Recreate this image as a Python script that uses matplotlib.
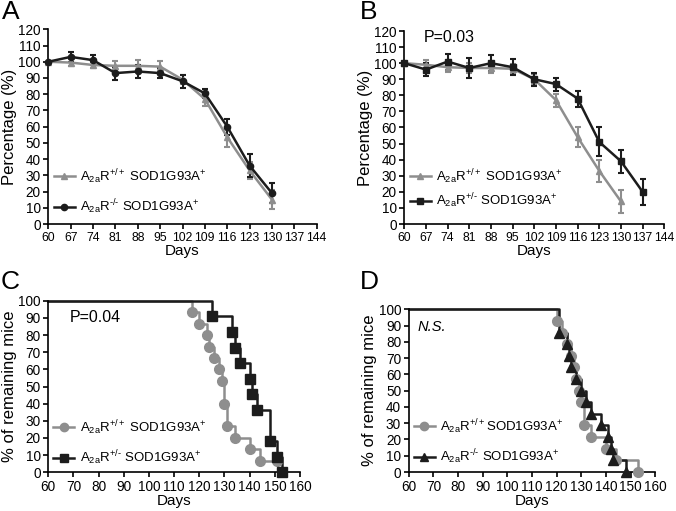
import matplotlib

matplotlib.use("Agg")

import matplotlib.pyplot as plt

plt.rcParams["font.family"] = ["Liberation Sans", "DejaVu Sans"]
plt.rcParams["mathtext.fontset"] = "custom"
plt.rcParams["mathtext.rm"] = "Liberation Sans"
plt.rcParams["mathtext.it"] = "Liberation Sans:italic"

GRAY = "#8e8e8e"
BLACK = "#1c1c1c"

# panel A: weight course, A2aR+/+ vs A2aR-/-
A_DAYS_WT = [60, 67, 74, 81, 88, 95, 102, 109, 116, 123, 130]
A_WT = [100, 99.5, 98, 97.5, 97.5, 97, 89, 77, 53.5, 33, 15]
A_WT_ERR = [0, 2, 2, 3, 3.5, 3.5, 3, 4, 6, 5, 6]
A_DAYS_KO = [60, 67, 74, 81, 88, 95, 102, 109, 116, 123, 130]
A_KO = [100, 103, 101, 93, 94, 93, 88, 80.5, 60, 36, 19]
A_KO_ERR = [0, 3, 3, 4, 4, 3, 4, 3, 5, 7, 6]

# panel B: weight course, A2aR+/+ vs A2aR+/-
B_DAYS_WT = [60, 67, 74, 81, 88, 95, 102, 109, 116, 123, 130]
B_WT = [100, 99, 97.5, 97, 97, 96.5, 90, 77, 54, 33, 14]
B_WT_ERR = [0, 3, 3, 3, 3, 3, 3, 4, 6, 7, 7]
B_DAYS_HET = [60, 67, 74, 81, 88, 95, 102, 109, 116, 123, 130, 137]
B_HET = [100, 96, 101, 97, 100, 97.5, 90, 87, 78, 51, 39, 20]
B_HET_ERR = [0, 4, 5, 6, 5, 5, 4, 4, 5, 9, 7, 8]

# panel C: survival, A2aR+/+ vs A2aR+/-
C_T_WT = [60, 117, 120, 123, 124, 126, 128, 129, 130, 131, 134, 140, 144, 151]
C_S_WT = [100, 93.3, 86.7, 80, 73.3, 66.7, 60, 53.3, 40, 26.7, 20, 13.3, 6.7, 6.7]
C_T_HET = [60, 125, 133, 134, 136, 140, 141, 143, 148, 151, 153]
C_S_HET = [100, 90.9, 81.8, 72.7, 63.6, 54.5, 45.5, 36.4, 18.2, 9.1, 0]

# panel D: survival, A2aR+/+ vs A2aR-/-
D_T_WT = [60, 120, 122, 124, 126, 127, 128, 129, 130, 131, 134, 140, 144, 153]
D_S_WT = [100, 92.9, 85.7, 78.6, 71.4, 64.3, 57.1, 50, 42.9, 28.6, 21.4, 14.3, 7.1, 0]
D_T_KO = [60, 121, 124, 125, 126, 128, 130, 132, 134, 138, 141, 142, 143, 148]
D_S_KO = [100, 85.7, 78.6, 71.4, 64.3, 57.1, 50, 42.9, 35.7, 28.6, 21.4, 14.3, 7.1, 0]

WEEK_TICKS = list(range(60, 145, 7))
DECADE_TICKS = list(range(60, 161, 10))

LBL_WT = r"$\mathrm{A_{2a}R^{+/+}}$ SOD1G93A$^{+}$"
LBL_WT_D = r"$\mathrm{A_{2a}R^{+/+}}$SOD1G93A$^{+}$"
LBL_KO = r"$\mathrm{A_{2a}R^{\text{-}/\text{-}}}$ SOD1G93A$^{+}$"
LBL_HET = r"$\mathrm{A_{2a}R^{+/\text{-}}}$ SOD1G93A$^{+}$"

W, H = 676, 511


def rect(x0, x1, ytop, ybot):
    return [x0 / W, 1 - ybot / H, (x1 - x0) / W, (ybot - ytop) / H]


def style(ax, xsize):
    for s in ("top", "right"):
        ax.spines[s].set_visible(False)
    for s in ("left", "bottom"):
        ax.spines[s].set_linewidth(1.2)
    ax.tick_params(direction="out", length=3.5, width=1.2, pad=2)
    ax.tick_params(axis="x", labelsize=xsize)
    ax.tick_params(axis="y", labelsize=9.8)


def weight_panel(ax, series, legend_y, spacing):
    for days, vals, err, color, marker, label in series:
        ax.errorbar(days, vals, yerr=err, color=color, marker=marker, ms=4.5,
                    lw=1.8, elinewidth=1.5, capsize=2.5, capthick=1.5,
                    label=label, clip_on=False, zorder=3)
    ax.set_xlim(60, 144)
    ax.set_ylim(0, 120)
    ax.set_xticks(WEEK_TICKS)
    ax.set_yticks(range(0, 121, 10))
    ax.set_xlabel("Days", fontsize=11, labelpad=0)
    ax.set_ylabel("Percentage (%)", fontsize=12, labelpad=1)
    handles, labels = ax.get_legend_handles_labels()
    handles = [h[0] for h in handles]
    ax.legend(handles, labels, loc="lower left", bbox_to_anchor=(0.02, legend_y),
              frameon=False, fontsize=9.5, handlelength=1.6, handletextpad=0.4,
              borderpad=0, borderaxespad=0, labelspacing=spacing)
    style(ax, 8.8)


def survival_panel(ax, series, legend_y):
    for t, s, color, marker, label in series:
        ax.step(t, s, where="post", color=color, lw=1.8, clip_on=False, zorder=2)
        ax.plot(t[1:len(t)], s[1:len(s)], ls="none", marker=marker, ms=7,
                color=color, clip_on=False, zorder=3)
        ax.plot([], [], color=color, lw=1.8, marker=marker, ms=6, label=label)
    ax.set_xlim(60, 160)
    ax.set_ylim(0, 100)
    ax.set_xticks(DECADE_TICKS)
    ax.set_yticks(range(0, 101, 10))
    ax.set_xlabel("Days", fontsize=11, labelpad=0)
    ax.set_ylabel("% of remaining mice", fontsize=12, labelpad=1)
    ax.legend(loc="lower left", bbox_to_anchor=(0.02, legend_y), frameon=False,
              fontsize=9.5, handlelength=1.6, handletextpad=0.4, borderpad=0,
              borderaxespad=0, labelspacing=0.9)
    style(ax, 9.8)


fig = plt.figure(figsize=(6.76, 5.11), dpi=100)

axA = fig.add_axes(rect(48.3, 316.7, 29.3, 224))
weight_panel(axA, [
    (A_DAYS_WT, A_WT, A_WT_ERR, GRAY, "^", LBL_WT),
    (A_DAYS_KO, A_KO, A_KO_ERR, BLACK, "o", LBL_KO),
], 0.04, 0.9)

axB = fig.add_axes(rect(404.3, 664.3, 31, 224))
weight_panel(axB, [
    (B_DAYS_WT, B_WT, B_WT_ERR, GRAY, "^", LBL_WT),
    (B_DAYS_HET, B_HET, B_HET_ERR, BLACK, "s", LBL_HET),
], 0.07, 0.45)
axB.text(0.076, 0.965, "P=0.03", transform=axB.transAxes, fontsize=11.5, va="center")

axC = fig.add_axes(rect(48.3, 300, 300.7, 472.3))
survival_panel(axC, [
    (C_T_WT, C_S_WT, GRAY, "o", LBL_WT),
    (C_T_HET, C_S_HET, BLACK, "s", LBL_HET),
], 0.03)
axC.text(0.086, 0.90, "P=0.04", transform=axC.transAxes, fontsize=11.5, va="center")

axD = fig.add_axes(rect(408.7, 655.3, 309.3, 472))
survival_panel(axD, [
    (D_T_WT, D_S_WT, GRAY, "o", LBL_WT_D),
    (D_T_KO, D_S_KO, BLACK, "^", LBL_KO),
], 0.035)
axD.text(0.036, 0.893, "N.S.", transform=axD.transAxes, fontsize=10.5,
         style="italic", va="center")

for letter, x, y in (("A", 2, 12), ("B", 360, 12), ("C", 1, 282), ("D", 360, 282)):
    fig.text(x / W, 1 - y / H, letter, fontsize=19, va="center", ha="left")

fig.savefig("out.png", dpi=100)
